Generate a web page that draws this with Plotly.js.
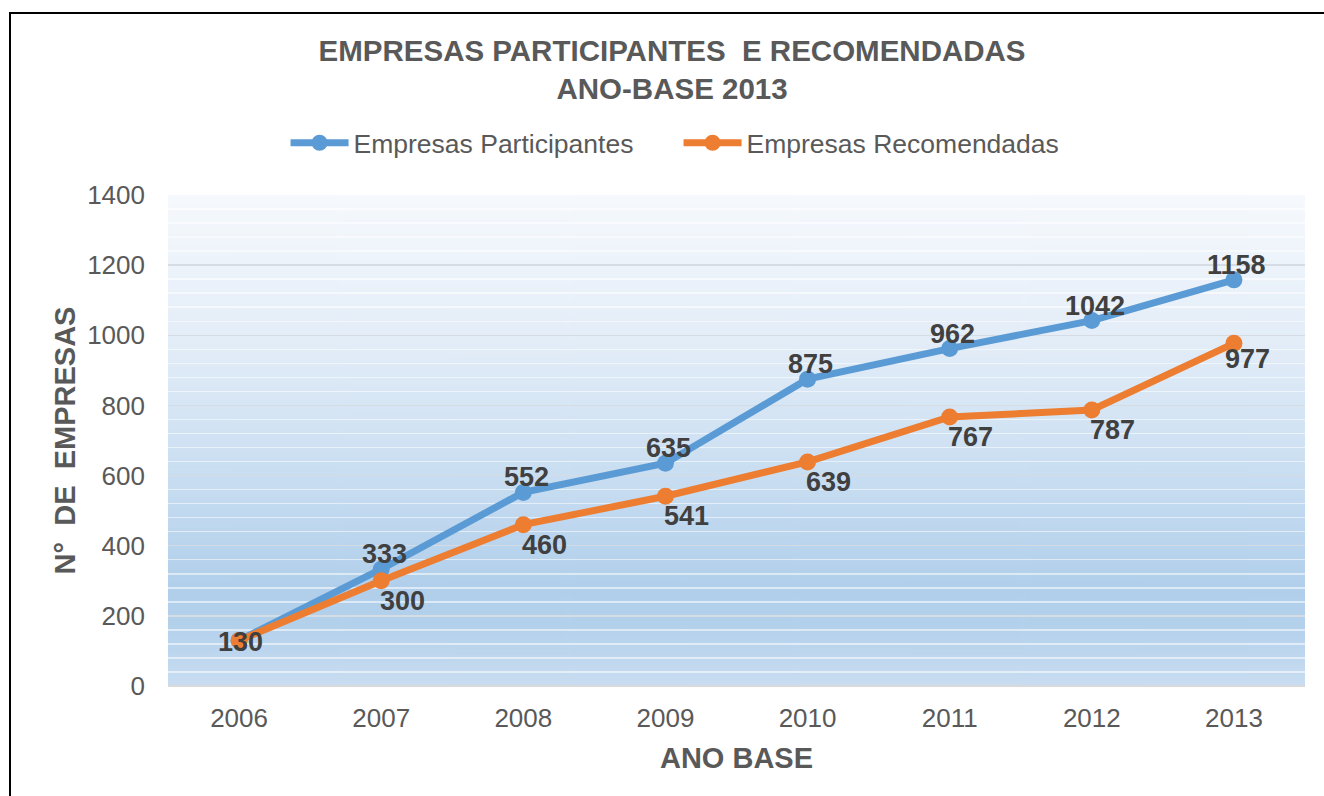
<!DOCTYPE html>
<html>
<head>
<meta charset="utf-8">
<script src="https://cdn.plot.ly/plotly-3.0.1.min.js"></script>
<style>
html,body{margin:0;padding:0;background:#fff;}
#wrap{position:relative;width:1324px;height:796px;overflow:hidden;}
#chart{position:absolute;left:0;top:0;width:1324px;height:796px;}
#frame{position:absolute;left:9px;top:12px;width:1400px;height:900px;border-left:2px solid #000;border-top:2px solid #000;pointer-events:none;}
</style>
</head>
<body>
<div id="wrap"><div id="chart"></div><div id="frame"></div></div>
<script>
const years = ['2006','2007','2008','2009','2010','2011','2012','2013'];
const participantes = [130, 333, 552, 635, 875, 962, 1042, 1158];
const recomendadas = [130, 300, 460, 541, 639, 767, 787, 977];
const yTicks = [0, 200, 400, 600, 800, 1000, 1200, 1400];

// gradient background for plot area
const cv = document.createElement('canvas');
cv.width = 10; cv.height = 500;
const ctx = cv.getContext('2d');
const g = ctx.createLinearGradient(0, 0, 0, 500);
g.addColorStop(0, '#f6f9fd');
g.addColorStop(0.3, '#e3edf8');
g.addColorStop(0.55, '#cbdff2');
g.addColorStop(0.8, '#b1cfeb');
g.addColorStop(0.88, '#b4d1ec');
g.addColorStop(1, '#c9ddf1');
ctx.fillStyle = g;
ctx.fillRect(0, 0, 10, 500);
const bgURL = cv.toDataURL('image/png');

const FONT = 'Liberation Sans, Arial, sans-serif';
const BLUE = '#5b9bd5', ORANGE = '#ed7d31';

const traces = [
  {x: years, y: participantes, name: 'Empresas Participantes', type: 'scatter', mode: 'lines+markers',
   line: {color: BLUE, width: 7}, marker: {color: BLUE, size: 17}},
  {x: years, y: recomendadas, name: 'Empresas Recomendadas', type: 'scatter', mode: 'lines+markers',
   line: {color: ORANGE, width: 7}, marker: {color: ORANGE, size: 17}}
];

const labelFont = {family: FONT, size: 27, color: '#404040', weight: 'bold'};
const annotations = [];
const last = years.length - 1;
years.forEach((yr, i) => {
  // category axes place annotations by category index
  if (i === 0) {
    annotations.push({x: i, y: recomendadas[i], text: String(recomendadas[i]), showarrow: false,
      xanchor: 'center', yanchor: 'middle', xshift: 1, yshift: -2, font: labelFont});
    return;
  }
  annotations.push({x: i, y: participantes[i], text: String(participantes[i]), showarrow: false,
    xanchor: 'center', yanchor: 'middle', yshift: 15, xshift: 3, font: labelFont});
  annotations.push({x: i, y: recomendadas[i], text: String(recomendadas[i]), showarrow: false,
    xanchor: 'center', yanchor: 'middle', yshift: i === last ? -16 : -20, xshift: i === last ? 14 : 21, font: labelFont});
});

const layout = {
  width: 1324, height: 796,
  margin: {l: 168, r: 19, t: 195, b: 110},
  paper_bgcolor: 'rgba(0,0,0,0)',
  plot_bgcolor: 'rgba(0,0,0,0)',
  font: {family: FONT, color: '#595959'},
  title: {text: 'EMPRESAS PARTICIPANTES\u00a0 E RECOMENDADAS<br>ANO-BASE 2013',
    font: {family: FONT, size: 29.5, color: '#595959', weight: 'bold'},
    x: 0.5076, xref: 'container', xanchor: 'center', y: 1 - 61/796, yref: 'container', yanchor: 'top'},
  showlegend: true,
  legend: {orientation: 'h', xref: 'container', yref: 'container', x: 0.5125, xanchor: 'center',
    y: 1 - 143/796, yanchor: 'middle', font: {family: FONT, size: 26.5, color: '#595959'},
    bgcolor: 'rgba(0,0,0,0)', itemwidth: 58, entrywidth: 320, entrywidthmode: 'pixels', tracegroupgap: 0},
  xaxis: {type: 'category', range: [-0.5, 7.5], showgrid: false, zeroline: false,
    showline: false, ticks: '', ticklabelstandoff: 14,
    tickfont: {family: FONT, size: 26, color: '#595959'},
    title: {text: 'ANO BASE', font: {family: FONT, size: 29, color: '#595959', weight: 'bold'}, standoff: 15}},
  yaxis: {range: [0, 1400], tickvals: yTicks, ticktext: yTicks.map(String),
    showgrid: true, gridcolor: '#d6dce4', gridwidth: 1.5, zeroline: true, zerolinecolor: '#d9d9d9', zerolinewidth: 1.5,
    showline: false, ticks: '', ticklabelstandoff: 22,
    minor: {dtick: 40, showgrid: true, gridcolor: 'rgba(255,255,255,0.55)', gridwidth: 1.5},
    tickfont: {family: FONT, size: 26, color: '#595959'},
    title: {text: 'N°\u00a0 DE\u00a0 EMPRESAS', font: {family: FONT, size: 29, color: '#595959', weight: 'bold'}, standoff: 3}},
  images: [{source: bgURL, xref: 'paper', yref: 'paper', x: 0, y: 1, sizex: 1, sizey: 1,
    sizing: 'stretch', layer: 'below', xanchor: 'left', yanchor: 'top'}],
  annotations: annotations
};

Plotly.newPlot('chart', traces, layout, {displayModeBar: false, staticPlot: true});
</script>
</body>
</html>
